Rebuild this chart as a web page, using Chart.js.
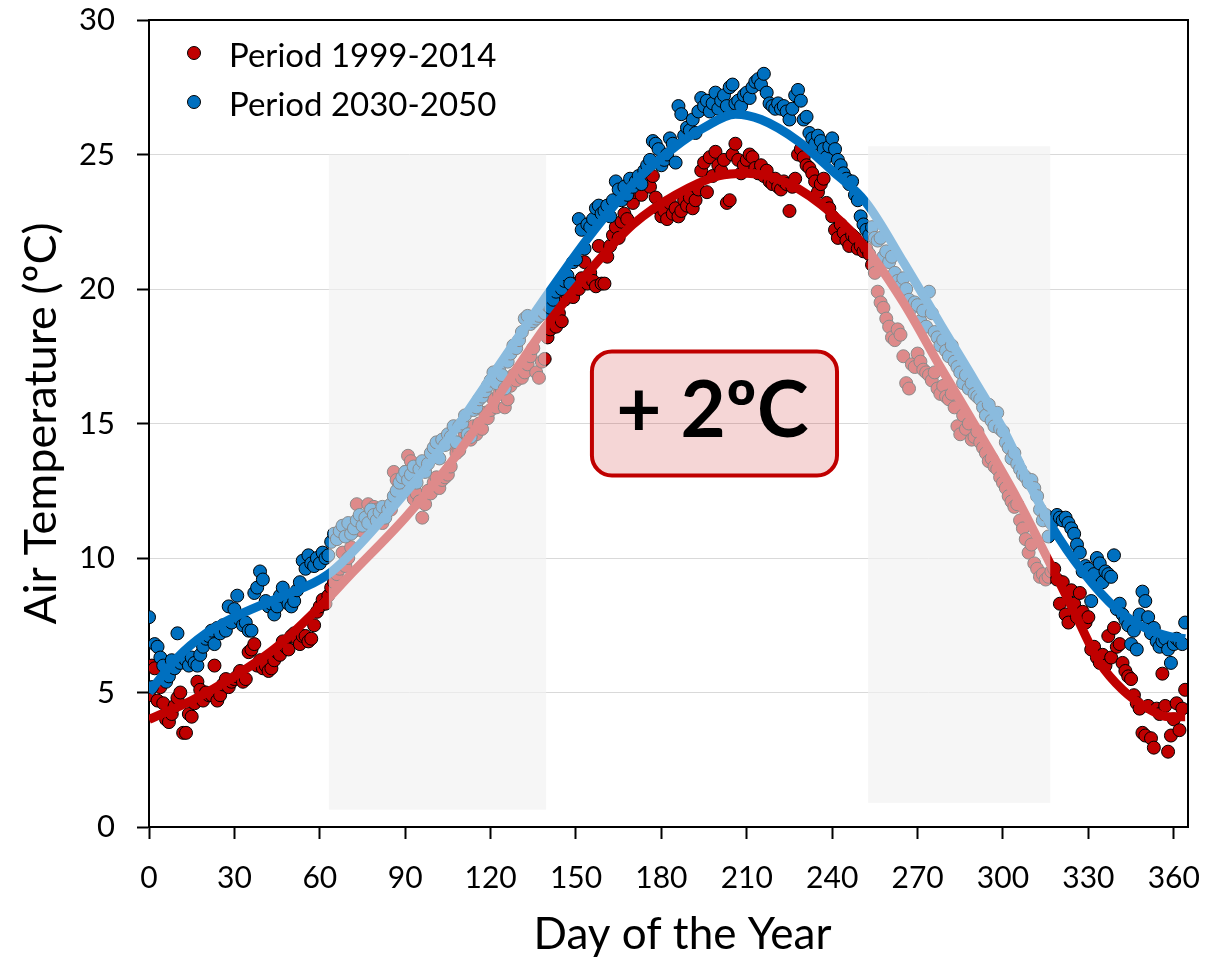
<!DOCTYPE html>
<html>
<head>
<meta charset="utf-8">
<script src="https://cdn.jsdelivr.net/npm/chart.js@4.4.0/dist/chart.umd.min.js"></script>
<style>
  html, body { margin: 0; padding: 0; background: #fff; }
  #wrap { width: 1207px; height: 961px; position: relative; }
</style>
</head>
<body>
<div id="wrap"><canvas id="chart"></canvas></div>
<script>
// daily mean air temperature, one value per day of the year (day 0..364)
const temps1999 = [
  4.9, 6.0, 5.9, 4.7, 5.2, 4.6, 4.0, 3.9, 4.2, 4.5,
  4.8, 5.0, 3.5, 3.5, 4.2, 4.1, 4.6, 5.4, 5.1, 4.7,
  5.0, 4.9, 4.9, 6.0, 4.7, 4.9, 5.3, 5.5, 5.2, 5.4,
  5.5, 5.6, 5.8, 5.4, 5.5, 6.5, 6.6, 6.8, 6.0, 6.2,
  5.9, 6.0, 5.8, 5.9, 6.2, 6.5, 6.4, 6.9, 6.7, 6.6,
  7.1, 7.2, 7.0, 6.8, 7.1, 7.1, 6.9, 7.0, 7.5, 8.0,
  8.2, 8.45, 8.3, 8.6, 8.9, 9.1, 9.4, 9.6, 10.2, 9.7,
  10.0, 10.4, 11.0, 12.0, 11.2, 11.0, 11.5, 12.0, 11.6, 11.9,
  11.8, 11.6, 11.3, 11.7, 11.9, 11.8, 13.2, 12.9, 12.7, 12.8,
  13.2, 13.8, 13.6, 12.2, 12.4, 12.1, 11.5, 12.0, 12.5, 12.4,
  12.8, 13.0, 12.6, 12.9, 13.0, 13.1, 13.4, 14.2, 13.9, 14.0,
  14.3, 14.6, 14.5, 14.4, 14.9, 14.6, 15.0, 14.8, 15.4, 15.2,
  15.5, 15.9, 15.6, 16.1, 16.2, 15.6, 15.9, 16.4, 16.8, 16.6,
  17.0, 16.7, 16.9, 17.2, 17.5, 17.8, 16.9, 16.7, 17.3, 17.4,
  18.2, 18.5, 19.0, 18.6, 19.1, 18.8, 19.6, 19.8, 20.1, 19.7,
  20.2, 20.0, 20.4, 21.0, 20.2, 20.6, 20.3, 20.1, 21.6, 20.2,
  20.2, 21.2, 21.6, 22.0, 22.3, 21.9, 22.5, 22.8, 22.6, 23.4,
  23.2, 23.6, 23.9, 23.5, 24.1, 24.0, 23.8, 24.2, 23.4, 23.0,
  22.7, 22.9, 22.6, 23.2, 22.8, 23.0, 22.7, 22.9, 23.3, 23.1,
  23.4, 23.0, 23.3, 23.7, 24.4, 24.7, 23.6, 24.9, 24.2, 25.1,
  24.6, 24.4, 24.8, 23.2, 23.3, 25.0, 25.4, 24.8, 24.3, 24.6,
  24.8, 25.0, 24.9, 24.5, 24.3, 24.6, 24.2, 24.4, 24.0, 23.9,
  24.1, 23.8, 23.7, 24.0, 23.9, 22.9, 23.8, 24.1, 25.0, 25.2,
  24.9, 24.6, 24.5, 24.3, 24.0, 23.6, 23.9, 24.1, 23.2, 23.0,
  22.7, 22.2, 21.9, 22.4, 22.1, 21.8, 21.6, 22.0, 21.9, 21.5,
  21.6, 21.4, 21.5, 21.3, 20.9, 20.6, 19.9, 19.5, 19.3, 18.9,
  18.6, 18.2, 18.1, 18.5, 18.3, 17.5, 16.5, 16.3, 17.2, 17.1,
  17.6, 17.3, 17.0, 16.9, 16.8, 16.6, 16.9, 16.3, 16.1, 16.4,
  16.0, 15.9, 16.1, 15.6, 14.9, 14.6, 15.3, 14.8, 15.0, 14.4,
  14.5, 14.7, 14.3, 14.1, 13.9, 13.6, 13.7, 13.4, 13.3, 13.0,
  12.8, 12.6, 12.3, 12.1, 11.9, 12.0, 11.4, 11.1, 10.7, 10.2,
  10.5, 9.8, 9.6, 9.3, 9.4, 9.2, 9.3, 9.5, 9.6, 9.2,
  8.3, 9.1, 7.9, 7.6, 8.8, 8.3, 7.8, 8.7, 8.0, 7.6,
  7.8, 6.6, 6.7, 6.3, 6.1, 6.4, 6.0, 7.1, 6.3, 7.4,
  6.7, 6.8, 6.1, 5.8, 5.6, 5.5, 4.9, 4.6, 4.4, 3.5,
  3.4, 4.5, 3.3, 2.95, 4.4, 4.2, 5.7, 4.5, 2.8, 3.4,
  4.0, 4.6, 3.6, 4.4, 5.1
];

const temps2030 = [
  7.8, 5.2, 6.8, 6.7, 6.3, 6.0, 5.4, 5.6, 6.2, 5.9,
  7.2, 6.1, 6.3, 6.2, 6.0, 6.3, 6.1, 6.0, 6.4, 6.7,
  7.0, 7.1, 7.3, 6.8, 7.4, 7.2, 7.5, 7.3, 8.2, 7.6,
  8.1, 8.6, 7.7, 7.5, 7.6, 7.3, 7.3, 8.7, 8.9, 9.5,
  9.2, 8.4, 8.2, 8.3, 7.9, 8.2, 8.6, 8.9, 8.5, 8.3,
  8.2, 8.4, 8.8, 9.1, 9.9, 9.6, 10.1, 9.8, 9.7, 10.0,
  9.8, 10.2, 10.0, 10.1, 10.6, 10.9, 10.7, 11.0, 11.2, 10.8,
  11.3, 10.9, 11.1, 11.4, 11.6, 11.2, 11.5, 11.3, 11.8, 11.6,
  11.4, 11.7, 11.9, 11.5, 11.8, 12.0, 12.3, 12.5, 12.8, 13.0,
  13.2, 12.9, 13.1, 13.4, 12.8, 13.3, 13.6, 13.2, 13.5, 13.9,
  14.1, 14.3, 13.7, 14.4, 14.2, 14.6, 14.5, 14.9, 14.3, 14.9,
  15.0, 15.3, 14.6, 14.5, 15.5, 15.6, 15.9, 16.0, 16.2, 16.4,
  16.6, 16.9, 16.5, 17.0, 16.8, 16.3, 17.3, 17.6, 17.9, 17.8,
  18.1, 18.4, 18.9, 19.0, 18.7, 18.8, 18.9, 19.0, 19.2, 19.1,
  19.4, 19.3, 19.6, 19.9, 20.2, 20.0, 20.3, 20.5, 20.2, 21.0,
  21.1, 22.6, 22.2, 21.5, 22.4, 22.3, 22.6, 23.0, 23.1, 22.8,
  22.9, 23.1, 22.7, 23.3, 24.0, 23.7, 23.3, 23.8, 23.5, 24.1,
  23.8, 24.0, 24.2, 23.9, 24.4, 24.6, 24.8, 25.5, 25.4, 25.2,
  24.6, 24.8, 25.0, 25.6, 25.4, 24.7, 26.8, 26.5, 25.7, 26.0,
  25.9, 26.3, 25.8, 26.6, 27.1, 26.8, 27.0, 26.6, 26.9, 27.3,
  26.7, 27.0, 27.2, 26.8, 27.5, 27.6, 26.9, 27.0, 26.8, 27.2,
  27.3, 27.1, 27.5, 27.7, 27.8, 27.6, 28.0, 27.3, 26.9, 26.8,
  26.7, 26.9, 26.7, 26.8, 26.6, 26.3, 26.7, 27.2, 27.4, 27.0,
  26.3, 26.4, 25.8, 25.6, 25.4, 25.7, 25.5, 25.2, 24.9, 25.3,
  25.6, 25.2, 24.8, 24.6, 24.3, 24.1, 23.9, 24.0, 23.5, 23.3,
  22.7, 22.4, 22.2, 22.0, 22.3, 21.9, 21.8, 21.9, 21.2, 21.4,
  21.0, 21.2, 20.6, 20.3, 20.1, 20.4, 20.0, 19.6, 19.3, 19.5,
  19.4, 18.8, 19.2, 18.6, 19.9, 19.1, 18.4, 18.2, 17.9, 18.1,
  17.7, 17.5, 17.9, 17.3, 17.1, 16.9, 16.5, 16.8, 16.3, 16.5,
  16.1, 16.0, 15.9, 15.6, 15.3, 15.7, 15.1, 14.9, 15.4, 14.8,
  14.7, 14.3, 14.1, 13.7, 13.9, 13.5, 13.3, 13.1, 13.0, 12.8,
  12.9, 12.6, 12.3, 11.8, 11.4, 11.6, 10.8, 11.3, 11.4, 11.6,
  11.5, 11.4, 11.5, 11.3, 11.1, 10.9, 10.5, 10.2, 9.5, 9.7,
  9.6, 8.4, 9.4, 10.0, 9.8, 9.1, 9.5, 9.4, 9.3, 10.1,
  8.1, 8.3, 7.9, 7.7, 7.5, 6.8, 7.3, 6.6, 7.9, 8.75,
  8.4, 7.8, 7.2, 7.4, 6.9, 6.7, 6.9, 7.0, 6.6, 6.1,
  6.8, 7.0, 6.9, 6.8, 7.6
];

// fitted seasonal curves
const fitDays1999 = [0, 15, 30, 45, 62, 70, 90, 105, 120, 140, 155, 170, 185, 200, 210, 225, 240, 252, 265, 278, 292, 305, 317, 325, 334, 342, 351, 358, 364];
const fitVals1999 = [4.0, 4.7, 5.6, 6.7, 8.4, 9.3, 11.5, 13.4, 15.6, 18.7, 20.7, 22.4, 23.5, 24.2, 24.3, 23.9, 22.8, 21.5, 19.5, 17.1, 14.6, 12.2, 9.7, 8.0, 6.1, 5.1, 4.4, 4.1, 4.1];
const fitDays2030 = [0, 10, 20, 30, 45, 63, 80, 105, 120, 140, 155, 170, 185, 195, 206, 215, 228, 240, 252, 265, 278, 290, 301, 310, 317, 328, 340, 350, 358, 364];
const fitVals2030 = [5.0, 6.3, 7.2, 7.8, 8.5, 9.4, 11.2, 14.4, 16.7, 19.8, 22.0, 23.9, 25.3, 26.0, 26.5, 26.3, 25.5, 24.4, 23.2, 21.0, 18.7, 16.6, 14.6, 12.6, 11.2, 9.5, 8.1, 7.4, 7.1, 7.0];

const seriesLabels = ['Period 1999-2014', 'Period 2030-2050'];
const xTicks = [0, 30, 60, 90, 120, 150, 180, 210, 240, 270, 300, 330, 360];
const xTitle = 'Day of the Year';

// transition seasons (spring / autumn) shaded on the plot
const shadeStart = [63.2, 252.6];
const shadeEnd = [139.5, 316.6];
const shadeLow = [0.65, 0.9];
const shadeHigh = [25.0, 25.3];

const boxText = '+ 2ºC';

const RED = '#c00000';
const BLUE = '#0070c0';

function toPoints(vals) {
    return vals.map((v, i) => ({ x: i, y: v }));
}
function toFit(days, vals) {
    return days.map((d, i) => ({ x: d, y: vals[i] }));
}

function regionRects(chart) {
    const xs = chart.scales.x, ys = chart.scales.y;
    return shadeStart.map((s, i) => {
        const x0 = xs.getPixelForValue(s), x1 = xs.getPixelForValue(shadeEnd[i]);
        const y0 = ys.getPixelForValue(shadeHigh[i]), y1 = ys.getPixelForValue(shadeLow[i]);
        return [x0, y0, x1 - x0, y1 - y0];
    });
}

const shadePlugin = {
    id: 'shade',
    beforeDraw(chart) {
        const ctx = chart.ctx;
        ctx.save();
        ctx.fillStyle = '#f6f6f6';
        regionRects(chart).forEach(r => ctx.fillRect(r[0], r[1], r[2], r[3]));
        ctx.restore();
    },
    afterDatasetsDraw(chart) {
        // washes out points and curves inside the shaded seasons
        const ctx = chart.ctx;
        ctx.save();
        ctx.fillStyle = 'rgba(246,246,246,0.56)';
        regionRects(chart).forEach(r => ctx.fillRect(r[0], r[1], r[2], r[3]));
        ctx.restore();
    }
};

const decorPlugin = {
    id: 'decor',
    afterDraw(chart) {
        const ctx = chart.ctx;
        const a = chart.chartArea;
        const xs = chart.scales.x, ys = chart.scales.y;
        ctx.save();

        // top and right frame
        ctx.strokeStyle = '#000';
        ctx.lineWidth = 2;
        ctx.beginPath();
        ctx.moveTo(a.left, a.top);
        ctx.lineTo(a.right, a.top);
        ctx.lineTo(a.right, a.bottom);
        ctx.stroke();

        // x axis title (sits a little right of centre in the original)
        ctx.fillStyle = '#000';
        ctx.font = '44px Lato';
        ctx.textAlign = 'center';
        ctx.textBaseline = 'middle';
        ctx.fillText(xTitle, (a.left + a.right) / 2 + 14, 935);

        // "+ 2ºC" box
        const bx0 = xs.getPixelForValue(155.6), bx1 = xs.getPixelForValue(241.7);
        const by0 = ys.getPixelForValue(17.68), by1 = ys.getPixelForValue(13.07);
        ctx.beginPath();
        ctx.roundRect(bx0, by0, bx1 - bx0, by1 - by0, 20);
        ctx.fillStyle = 'rgba(192,0,0,0.16)';
        ctx.fill();
        ctx.lineWidth = 4;
        ctx.strokeStyle = RED;
        ctx.stroke();
        ctx.fillStyle = '#000';
        ctx.font = 'bold 78px Lato';
        ctx.textAlign = 'center';
        ctx.textBaseline = 'alphabetic';
        ctx.fillText(boxText, (bx0 + bx1) / 2 - 2, by0 + 86);

        // legend
        ctx.textAlign = 'left';
        ctx.textBaseline = 'middle';
        ctx.font = '33px Lato';
        chart.data.datasets.slice(0, 2).forEach((ds, i) => {
            const y = 53 + i * 49;
            ctx.beginPath();
            ctx.arc(194, y, 6.5, 0, Math.PI * 2);
            ctx.fillStyle = ds.backgroundColor;
            ctx.fill();
            ctx.lineWidth = 1;
            ctx.strokeStyle = '#000';
            ctx.stroke();
            ctx.fillStyle = '#000';
            ctx.fillText(ds.label, 229, y + 3);
        });
        ctx.restore();
    }
};

new Chart(document.getElementById('chart'), {
    type: 'scatter',
    data: {
        datasets: [
            {
                label: seriesLabels[0],
                data: toPoints(temps1999),
                backgroundColor: RED,
                borderColor: '#000',
                borderWidth: 1,
                pointRadius: 6.5,
                order: 3
            },
            {
                label: seriesLabels[1],
                data: toPoints(temps2030),
                backgroundColor: BLUE,
                borderColor: '#000',
                borderWidth: 1,
                pointRadius: 6.5,
                order: 2
            },
            {
                label: 'fit 1999',
                data: toFit(fitDays1999, fitVals1999),
                showLine: true,
                borderColor: RED,
                borderWidth: 9,
                pointRadius: 0,
                cubicInterpolationMode: 'monotone',
                order: 1
            },
            {
                label: 'fit 2030',
                data: toFit(fitDays2030, fitVals2030),
                showLine: true,
                borderColor: BLUE,
                borderWidth: 9,
                pointRadius: 0,
                cubicInterpolationMode: 'monotone',
                order: 0
            }
        ]
    },
    options: {
        responsive: true,
        maintainAspectRatio: false,
        animation: false,
        devicePixelRatio: 1,
        layout: { padding: { top: 20, right: 19, left: 0, bottom: 0 } },
        plugins: {
            legend: { display: false },
            tooltip: { enabled: false }
        },
        scales: {
            x: {
                type: 'linear',
                min: 0,
                max: 365,
                afterBuildTicks: s => { s.ticks = xTicks.map(v => ({ value: v })); },
                afterFit: s => { s.height = 134; s.paddingLeft = 0; s.paddingRight = 0; },
                ticks: {
                    autoSkip: false,
                    maxRotation: 0,
                    color: '#000',
                    padding: 21,
                    font: { family: 'Lato', size: 30 }
                },
                grid: { drawOnChartArea: false, tickLength: 12, tickColor: '#000', tickWidth: 2 },
                border: { color: '#000', width: 2 },
                title: { display: false }
            },
            y: {
                min: 0,
                max: 30,
                afterFit: s => { s.width = 149; s.paddingTop = 0; s.paddingBottom = 0; },
                ticks: {
                    stepSize: 5,
                    color: '#000',
                    padding: 22,
                    font: { family: 'Lato', size: 31 }
                },
                grid: {
                    color: c => (c.tick.value === 0 || c.tick.value === 30) ? 'rgba(0,0,0,0)' : '#d9d9d9',
                    tickColor: '#000',
                    tickLength: 12,
                    tickWidth: 2
                },
                border: { color: '#000', width: 2 },
                title: {
                    display: true,
                    text: 'Air Temperature (ºC)',
                    color: '#000',
                    font: { family: 'Lato', size: 45 },
                    padding: { top: 14 }
                }
            }
        }
    },
    plugins: [shadePlugin, decorPlugin]
});
</script>
</body>
</html>
